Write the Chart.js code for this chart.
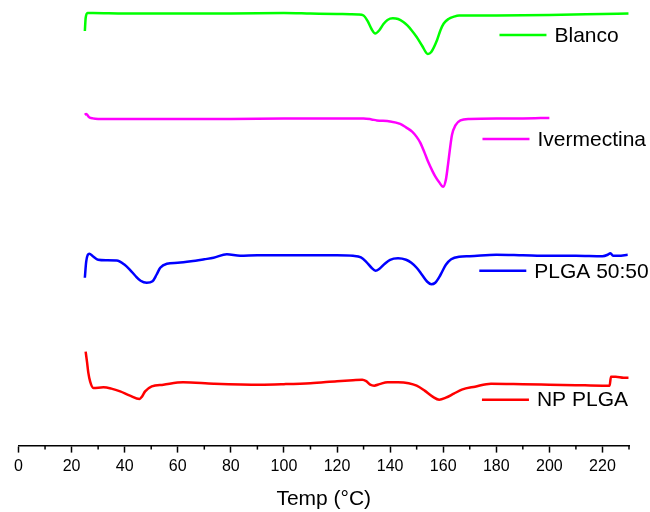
<!DOCTYPE html>
<html>
<head>
<meta charset="utf-8">
<script src="https://cdn.jsdelivr.net/npm/chart.js@4.4.1/dist/chart.umd.min.js"></script>
<style>
  body { margin: 0; background: #ffffff; }
  canvas { display: block; }
</style>
</head>
<body>
<canvas id="dscChart" width="650" height="512"></canvas>
<script>
// DSC curves, y is an arbitrary heat flow offset (higher = up)
var seriesNames = ["Blanco", "Ivermectina", "PLGA 50:50", "NP PLGA"];
var seriesColors = ["#00ff00", "#ff00ff", "#0000ff", "#ff0000"];

var blancoT = [25, 25.3, 26, 28, 40, 60, 80, 100, 110, 120, 125, 128, 130, 131.5, 133, 134.4, 136, 137.5, 139, 141, 143, 145, 146.5, 148, 150, 152, 154.2, 155.5, 157.7, 159, 160.2, 162, 164, 166, 170, 180, 200, 220, 229.8];
var blancoY = [415, 428, 433, 433, 432.5, 432.5, 432.5, 433, 432.5, 432, 431.7, 431.5, 430.5, 425, 417, 412.5, 416, 422, 426, 427.7, 427, 424, 420.5, 416, 409, 400.5, 392, 394, 406, 416, 422.5, 427, 429.3, 430.5, 430.5, 430.5, 431, 432, 432.5];

var ivermT = [25, 25.5, 26.5, 28, 30, 50, 80, 100, 120, 130, 133, 135, 140, 143.8, 146, 148.3, 150, 151.4, 153, 154.5, 156, 157, 158.5, 160, 161, 161.8, 162.5, 163.3, 164.6, 166.5, 170, 180, 190, 200];
var ivermY = [331, 332, 329, 327.5, 327, 327, 327, 327.5, 327.5, 327.5, 326.5, 325.5, 324.5, 322, 318.5, 314.3, 309, 303, 293, 283, 274.5, 269.5, 263.5, 259, 266, 281, 296, 311, 320.5, 325.5, 327, 327.5, 327.5, 328];

var plgaT = [25, 25.5, 26.7, 28, 30, 33, 37, 40, 42, 44, 46, 48.3, 50.5, 52, 53.4, 55.9, 60, 65, 70, 73.5, 78.5, 83.5, 90, 100, 110, 120, 126, 129, 131, 133, 134.5, 136, 138, 140, 143, 146, 148, 150, 152, 154, 155.5, 157, 159, 161, 163, 166, 170, 180, 190, 200, 210, 220, 222, 223, 224, 226, 229.5];
var plgaY = [168, 184, 192, 189.5, 186, 185.5, 185.3, 181, 176, 170, 165, 163, 164.5, 171, 178, 182, 183, 184.5, 186.5, 188, 191.5, 190, 190.5, 190.5, 190.5, 190.5, 190, 188.5, 184, 178, 175, 177, 182, 186, 187.5, 186, 183, 178, 171, 164, 161.5, 163, 171, 181, 186.5, 189, 189.5, 191, 190.5, 190, 190, 189.5, 191, 192.5, 190, 190, 191];

var npT = [25.3, 25.8, 26.3, 27, 28.2, 32, 35, 38.3, 42, 45.6, 46.5, 47.7, 50.2, 54.6, 62, 73.5, 91, 100, 110, 120, 126, 129.5, 131, 132.5, 134, 136, 139, 143, 147, 150, 153, 156, 158.5, 161, 164, 167, 172, 178, 190, 200, 210, 220, 222.7, 223.2, 225, 228, 229.8];
var npY = [94, 84, 73, 64, 57.7, 58.3, 57, 54.3, 50, 46.7, 49, 54.3, 59.3, 61, 63.3, 62, 61, 61.5, 62.5, 64.5, 65.5, 66, 64.5, 61, 60, 61.5, 63.5, 63.5, 62.5, 60, 55, 49, 46, 48, 52, 56, 59, 62, 61.5, 61, 60.5, 60, 60, 69, 69, 68, 68];

// label positions next to the curves (temperature, heat flow)
var labelT = [181.2, 174.8, 173.6, 174.6];
var labelY = [411, 307, 175, 46];

var xTicks = { min: 0, max: 230, step: 20, minorStep: 20, minorStart: 10 };

function toPoints(t, y) {
    return t.map(function(v, i) {
        return { x: v, y: y[i] };
    });
}

var allT = [blancoT, ivermT, plgaT, npT];
var allY = [blancoY, ivermY, plgaY, npY];

var datasets = seriesNames.map(function(name, i) {
    return {
        label: name,
        data: toPoints(allT[i], allY[i]),
        borderColor: seriesColors[i],
        borderWidth: 2.5,
        pointRadius: 0,
        cubicInterpolationMode: 'monotone',
        fill: false
    };
});

// minor ticks between the labelled ones
var minorTicks = {
    id: 'minorTicks',
    afterDraw: function(chart) {
        var ctx = chart.ctx;
        var xs = chart.scales.x;
        var bottom = chart.chartArea.bottom;
        ctx.save();
        ctx.strokeStyle = '#000000';
        ctx.lineWidth = 1.5;
        for (var v = xTicks.minorStart; v <= xTicks.max; v += xTicks.minorStep) {
            var px = xs.getPixelForValue(v);
            ctx.beginPath();
            ctx.moveTo(px, bottom);
            ctx.lineTo(px, bottom + 4);
            ctx.stroke();
        }
        ctx.restore();
    }
};

// the legend entries sit beside each curve
var curveLabels = {
    id: 'curveLabels',
    afterDatasetsDraw: function(chart) {
        var ctx = chart.ctx;
        var xs = chart.scales.x;
        var ys = chart.scales.y;
        ctx.save();
        ctx.font = '21px "Liberation Sans", Arial, sans-serif';
        ctx.textBaseline = 'middle';
        ctx.textAlign = 'left';
        seriesNames.forEach(function(name, i) {
            var px = xs.getPixelForValue(labelT[i]);
            var py = ys.getPixelForValue(labelY[i]);
            ctx.strokeStyle = seriesColors[i];
            ctx.lineWidth = 2.5;
            ctx.beginPath();
            ctx.moveTo(px, py);
            ctx.lineTo(px + 47, py);
            ctx.stroke();
            ctx.fillStyle = '#000000';
            ctx.fillText(name, px + 55, py + 1);
        });
        ctx.restore();
    }
};

var dscChart = new Chart(document.getElementById('dscChart'), {
    type: 'line',
    data: { datasets: datasets },
    options: {
        responsive: false,
        animation: false,
        layout: {
            padding: { left: 18.5, right: 21, top: 0, bottom: 0 }
        },
        plugins: {
            legend: { display: false },
            tooltip: { enabled: false }
        },
        scales: {
            x: {
                type: 'linear',
                min: xTicks.min,
                max: xTicks.max,
                ticks: {
                    stepSize: xTicks.step,
                    includeBounds: false,
                    maxRotation: 0,
                    padding: 4,
                    color: '#000000',
                    font: { family: '"Liberation Sans", Arial, sans-serif', size: 16 }
                },
                grid: {
                    display: true,
                    drawOnChartArea: false,
                    drawTicks: true,
                    tickLength: 7,
                    tickColor: '#000000',
                    tickWidth: 1.5
                },
                border: { display: true, color: '#000000', width: 1.5 },
                title: {
                    display: true,
                    text: 'Temp (°C)',
                    color: '#000000',
                    font: { family: '"Liberation Sans", Arial, sans-serif', size: 21 },
                    padding: { top: 7, bottom: 0 }
                }
            },
            y: {
                display: false,
                min: 0,
                max: 446
            }
        }
    },
    plugins: [minorTicks, curveLabels]
});
</script>
</body>
</html>
